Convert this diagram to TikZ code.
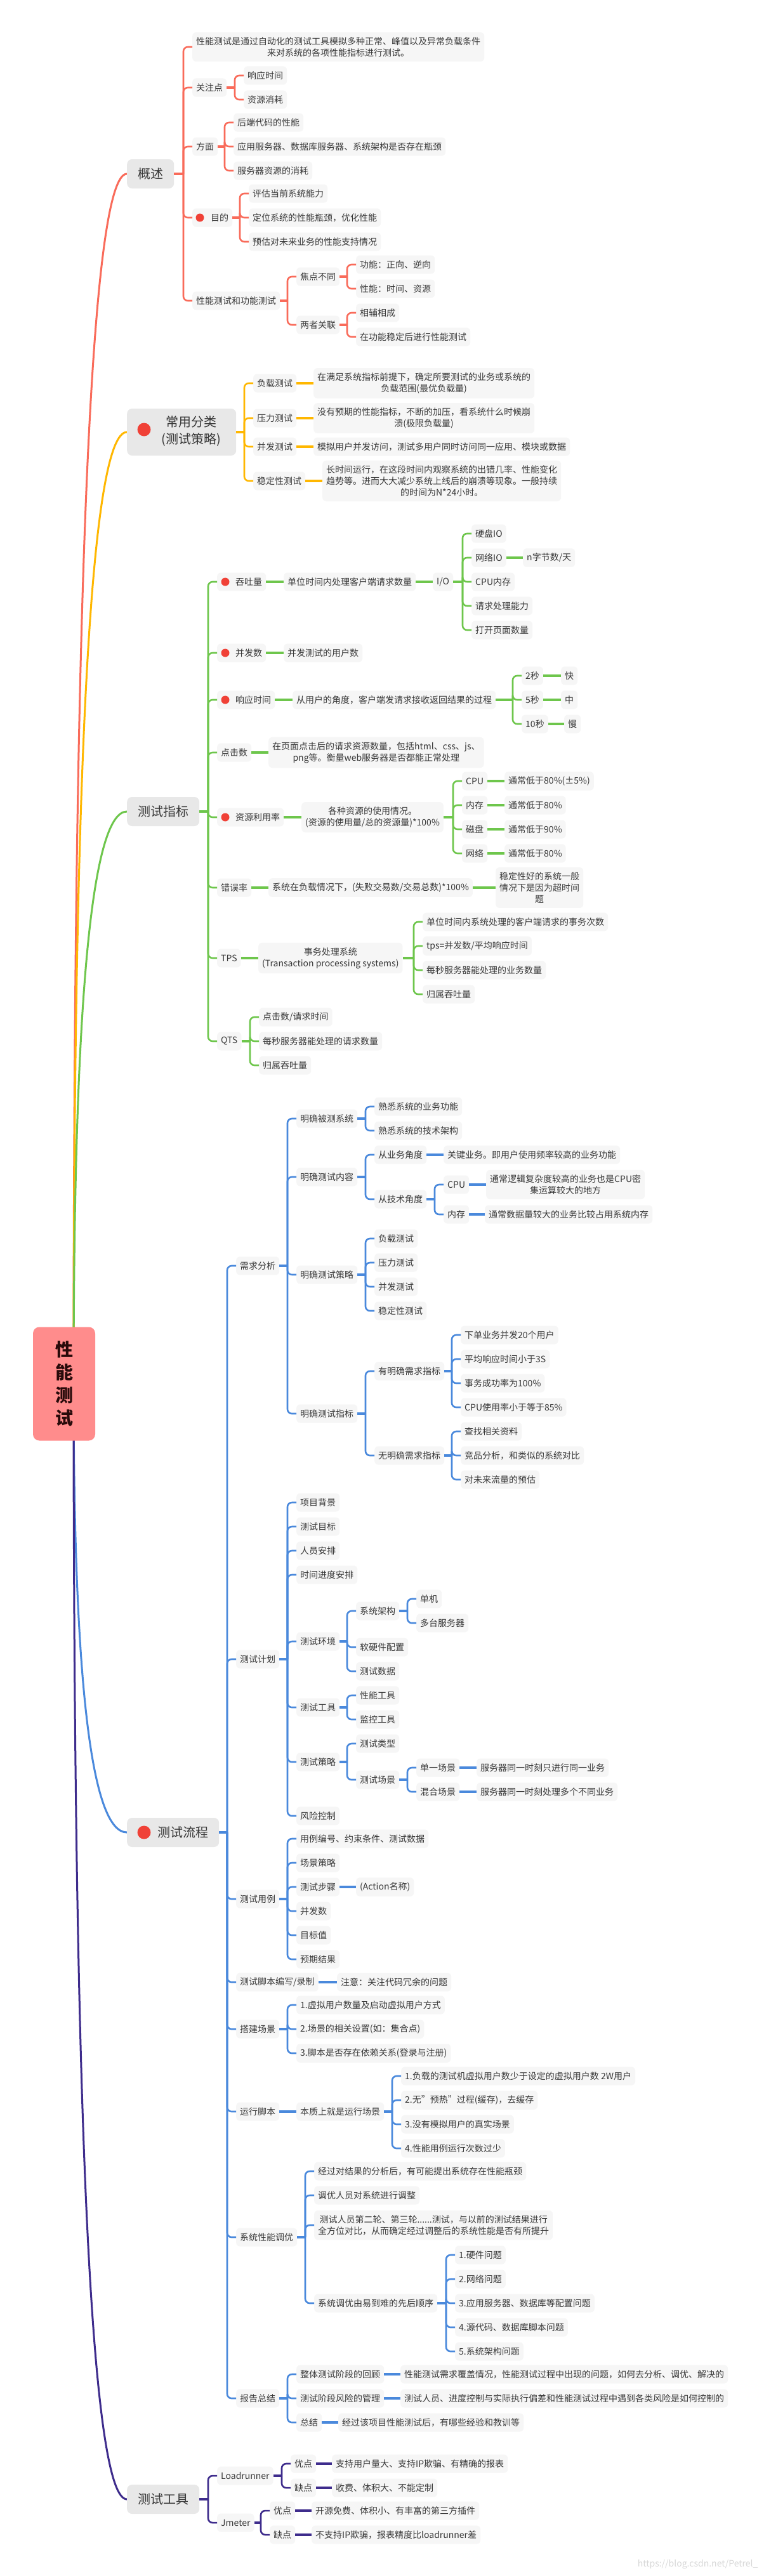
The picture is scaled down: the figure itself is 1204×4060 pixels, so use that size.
\documentclass[tikz,border=0pt]{standalone}
\usepackage{fontspec}
\setmainfont{Noto Sans CJK SC}
\usetikzlibrary{backgrounds}
\definecolor{cA}{RGB}{249,107,90}
\definecolor{cB}{RGB}{255,183,0}
\definecolor{cC}{RGB}{110,198,76}
\definecolor{cD}{RGB}{74,137,220}
\definecolor{cE}{RGB}{62,44,140}
\definecolor{nodebg}{RGB}{246,246,246}
\definecolor{ttlbg}{RGB}{232,232,232}
\definecolor{txt}{RGB}{55,55,55}
\definecolor{rootbg}{RGB}{255,140,140}
\definecolor{roottxt}{RGB}{40,10,10}
\definecolor{dotc}{RGB}{240,65,55}
\definecolor{wmc}{RGB}{215,215,215}
\tikzset{
 box/.style={fill=nodebg, rounded corners=6pt, inner xsep=6pt, inner ysep=7.5pt, minimum height=29pt, font=\fontsize{14}{18}\selectfont, text=txt, anchor=west, align=center},
 dbox/.style={box},
 ttl/.style={fill=ttlbg, rounded corners=8pt, inner xsep=17pt, inner ysep=10pt, minimum height=46pt, font=\fontsize{20}{27}\selectfont, text=txt, anchor=west, align=center},
 rootnode/.style={fill=rootbg, rounded corners=10pt, minimum width=98pt, minimum height=179pt, font=\fontsize{28}{36}\selectfont\bfseries, text=roottxt, align=center},
 stub/.style={line width=4.5pt},
 br/.style={line width=2.6pt, rounded corners=7pt},
 curve/.style={line width=3pt},
 dotfill/.style={fill=dotc},
}
\newcommand\mmfan[2]{%
 \foreach \c [count=\i] in {#2}{%
  \ifnum\i=1\relax
   \path (\c.west) ++(-14,0) coordinate (mmbar);
   \draw[stub] (#1.east) -- (mmbar |- #1.east);
  \fi
  \draw[br] (mmbar |- #1.east) |- (\c.west);
 }%
}
\newcommand\mmlink[2]{\draw[stub] (#1.east) -- (#2.west);}
\begin{document}
\begin{tikzpicture}[x=1pt,y=-1pt]
\useasboundingbox (0,0) rectangle (1204,4060);
% root
\node[rootnode] (root) at (101,2181) {性\\能\\测\\试};
% ===== A =====
\node[ttl] (tA) at (200,274) {概述};
\node[box] (a1) at (303,74) {性能测试是通过自动化的测试工具模拟多种正常、峰值以及异常负载条件\\来对系统的各项性能指标进行测试。};
\node[box] (a2) at (303,138) {关注点};
\node[box] (a21) at (384,119) {响应时间};
\node[box] (a22) at (384,157) {资源消耗};
\node[box] (a3) at (303,231) {方面};
\node[box] (a31) at (368,193) {后端代码的性能};
\node[box] (a32) at (368,231) {应用服务器、数据库服务器、系统架构是否存在瓶颈};
\node[box] (a33) at (368,269) {服务器资源的消耗};
\node[dbox] (a4) at (303,343) {\hspace*{23pt}目的};
\node[box] (a41) at (392,305) {评估当前系统能力};
\node[box] (a42) at (392,343) {定位系统的性能瓶颈，优化性能};
\node[box] (a43) at (392,381) {预估对未来业务的性能支持情况};
\node[box] (a5) at (303,474) {性能测试和功能测试};
\node[box] (a51) at (467,436) {焦点不同};
\node[box] (a511) at (561,417) {功能：正向、逆向};
\node[box] (a512) at (561,455) {性能：时间、资源};
\node[box] (a52) at (467,512) {两者关联};
\node[box] (a521) at (561,493) {相辅相成};
\node[box] (a522) at (561,531) {在功能稳定后进行性能测试};
\begin{scope}[color=cA]
\mmfan{tA}{a1,a2,a3,a4,a5}
\mmfan{a2}{a21,a22}
\mmfan{a3}{a31,a32,a33}
\mmfan{a4}{a41,a42,a43}
\mmfan{a5}{a51,a52}
\mmfan{a51}{a511,a512}
\mmfan{a52}{a521,a522}
\end{scope}
% ===== B =====
\node[ttl, minimum width=172pt, minimum height=72pt] (tB) at (200,681) {\hspace*{31pt}\begin{tabular}{@{}c@{}}常用分类\\(测试策略)\end{tabular}};
\node[box] (b1) at (399,604) {负载测试};
\node[box] (b11) at (494,604) {在满足系统指标前提下，确定所要测试的业务或系统的\\负载范围(最优负载量)};
\node[box] (b2) at (399,659) {压力测试};
\node[box] (b21) at (494,659) {没有预期的性能指标，不断的加压，看系统什么时候崩\\溃(极限负载量)};
\node[box] (b3) at (399,704) {并发测试};
\node[box] (b31) at (494,704) {模拟用户并发访问，测试多用户同时访问同一应用、模块或数据};
\node[box] (b4) at (399,758) {稳定性测试};
\node[box] (b41) at (508,758) {长时间运行，在这段时间内观察系统的出错几率、性能变化\\趋势等。进而大大减少系统上线后的崩溃等现象。一般持续\\的时间为N*24小时。};
\begin{scope}[color=cB]
\mmfan{tB}{b1,b2,b3,b4}
\mmlink{b1}{b11}\mmlink{b2}{b21}\mmlink{b3}{b31}\mmlink{b4}{b41}
\end{scope}
% ===== C =====
\node[ttl] (tC) at (200,1279) {测试指标};
\node[dbox] (c1) at (342,917) {\hspace*{23pt}吞吐量};
\node[box] (c11) at (447,917) {单位时间内处理客户端请求数量};
\node[box] (c12) at (682,917) {I/O};
\node[box] (c121) at (743,841) {硬盘IO};
\node[box] (c122) at (743,879) {网络IO};
\node[box] (c1221) at (824,879) {n字节数/天};
\node[box] (c123) at (743,917) {CPU内存};
\node[box] (c124) at (743,955) {请求处理能力};
\node[box] (c125) at (743,993) {打开页面数量};
\node[dbox] (c2) at (342,1029) {\hspace*{23pt}并发数};
\node[box] (c21) at (447,1029) {并发测试的用户数};
\node[dbox] (c3) at (342,1103) {\hspace*{23pt}响应时间};
\node[box] (c31) at (461,1103) {从用户的角度，客户端发请求接收返回结果的过程};
\node[box] (c311) at (822,1065) {2秒};
\node[box] (c312) at (822,1103) {5秒};
\node[box] (c313) at (822,1141) {10秒};
\node[box] (c3111) at (884,1065) {快};
\node[box] (c3121) at (884,1103) {中};
\node[box] (c3131) at (889,1141) {慢};
\node[box] (c4) at (342,1186) {点击数};
\node[box] (c41) at (423,1186) {在页面点击后的请求资源数量，包括html、css、js、\\png等。衡量web服务器是否都能正常处理};
\node[dbox] (c5) at (342,1288) {\hspace*{23pt}资源利用率};
\node[box] (c51) at (475,1288) {各种资源的使用情况。\\(资源的使用量/总的资源量)*100\%};
\node[box] (c511) at (728,1231) {CPU};
\node[box] (c512) at (728,1269) {内存};
\node[box] (c513) at (728,1307) {磁盘};
\node[box] (c514) at (728,1345) {网络};
\node[box] (c5111) at (795,1231) {通常低于80\%(±5\%)};
\node[box] (c5121) at (795,1269) {通常低于80\%};
\node[box] (c5131) at (795,1307) {通常低于90\%};
\node[box] (c5141) at (795,1345) {通常低于80\%};
\node[box] (c6) at (342,1399) {错误率};
\node[box] (c61) at (423,1399) {系统在负载情况下，(失败交易数/交易总数)*100\%};
\node[box] (c62) at (781,1399) {稳定性好的系统一般\\情况下是因为超时间\\题};
\node[box] (c7) at (342,1510) {TPS};
\node[box] (c71) at (407,1510) {事务处理系统\\(Transaction processing systems)};
\node[box] (c711) at (666,1453) {单位时间内系统处理的客户端请求的事务次数};
\node[box] (c712) at (666,1491) {tps=并发数/平均响应时间};
\node[box] (c713) at (666,1529) {每秒服务器能处理的业务数量};
\node[box] (c714) at (666,1567) {归属吞吐量};
\node[box] (c8) at (342,1641) {QTS};
\node[box] (c81) at (408,1603) {点击数/请求时间};
\node[box] (c82) at (408,1641) {每秒服务器能处理的请求数量};
\node[box] (c83) at (408,1679) {归属吞吐量};
\begin{scope}[color=cC]
\mmfan{tC}{c1,c2,c3,c4,c5,c6,c7,c8}
\mmlink{c1}{c11}\mmlink{c11}{c12}
\mmfan{c12}{c121,c122,c123,c124,c125}
\mmlink{c122}{c1221}
\mmlink{c2}{c21}\mmlink{c3}{c31}
\mmfan{c31}{c311,c312,c313}
\mmlink{c311}{c3111}\mmlink{c312}{c3121}\mmlink{c313}{c3131}
\mmlink{c4}{c41}\mmlink{c5}{c51}
\mmfan{c51}{c511,c512,c513,c514}
\mmlink{c511}{c5111}\mmlink{c512}{c5121}\mmlink{c513}{c5131}\mmlink{c514}{c5141}
\mmlink{c6}{c61}\mmlink{c61}{c62}
\mmlink{c7}{c71}
\mmfan{c71}{c711,c712,c713,c714}
\mmfan{c8}{c81,c82,c83}
\end{scope}
% ===== D =====
\node[ttl] (tD) at (200,2888) {\hspace*{31pt}测试流程};
\node[box] (d1) at (372,1995) {需求分析};
\node[box] (d11) at (467,1763) {明确被测系统};
\node[box] (d111) at (590,1744) {熟悉系统的业务功能};
\node[box] (d112) at (590,1782) {熟悉系统的技术架构};
\node[box] (d12) at (467,1855) {明确测试内容};
\node[box] (d121) at (590,1820) {从业务角度};
\node[box] (d1211) at (699,1820) {关键业务。即用户使用频率较高的业务功能};
\node[box] (d122) at (590,1890) {从技术角度};
\node[box] (d1221) at (699,1867) {CPU};
\node[box] (d12211) at (766,1867) {通常逻辑复杂度较高的业务也是CPU密\\集运算较大的地方};
\node[box] (d1222) at (699,1914) {内存};
\node[box] (d12221) at (764,1914) {通常数据量较大的业务比较占用系统内存};
\node[box] (d13) at (467,2009) {明确测试策略};
\node[box] (d131) at (590,1952) {负载测试};
\node[box] (d132) at (590,1990) {压力测试};
\node[box] (d133) at (590,2028) {并发测试};
\node[box] (d134) at (590,2066) {稳定性测试};
\node[box] (d14) at (467,2228) {明确测试指标};
\node[box] (d141) at (590,2161) {有明确需求指标};
\node[box] (d1411) at (726,2104) {下单业务并发20个用户};
\node[box] (d1412) at (726,2142) {平均响应时间小于3S};
\node[box] (d1413) at (726,2180) {事务成功率为100\%};
\node[box] (d1414) at (726,2218) {CPU使用率小于等于85\%};
\node[box] (d142) at (590,2294) {无明确需求指标};
\node[box] (d1421) at (726,2256) {查找相关资料};
\node[box] (d1422) at (726,2294) {竞品分析，和类似的系统对比};
\node[box] (d1423) at (726,2332) {对未来流量的预估};
\node[box] (d2) at (372,2615) {测试计划};
\node[box] (d21) at (467,2368) {项目背景};
\node[box] (d22) at (467,2406) {测试目标};
\node[box] (d23) at (467,2444) {人员安排};
\node[box] (d24) at (467,2482) {时间进度安排};
\node[box] (d25) at (467,2587) {测试环境};
\node[box] (d251) at (561,2539) {系统架构};
\node[box] (d2511) at (656,2520) {单机};
\node[box] (d2512) at (656,2558) {多台服务器};
\node[box] (d252) at (561,2596) {软硬件配置};
\node[box] (d253) at (561,2634) {测试数据};
\node[box] (d26) at (467,2691) {测试工具};
\node[box] (d261) at (561,2672) {性能工具};
\node[box] (d262) at (561,2710) {监控工具};
\node[box] (d27) at (467,2777) {测试策略};
\node[box] (d271) at (561,2748) {测试类型};
\node[box] (d272) at (561,2805) {测试场景};
\node[box] (d2721) at (656,2786) {单一场景};
\node[box] (d27211) at (751,2786) {服务器同一时刻只进行同一业务};
\node[box] (d2722) at (656,2824) {混合场景};
\node[box] (d27221) at (751,2824) {服务器同一时刻处理多个不同业务};
\node[box] (d28) at (467,2862) {风险控制};
\node[box] (d3) at (372,2993) {测试用例};
\node[box] (d31) at (467,2898) {用例编号、约束条件、测试数据};
\node[box] (d32) at (467,2936) {场景策略};
\node[box] (d33) at (467,2974) {测试步骤};
\node[box] (d331) at (561,2974) {(Action名称)};
\node[box] (d34) at (467,3012) {并发数};
\node[box] (d35) at (467,3050) {目标值};
\node[box] (d36) at (467,3088) {预期结果};
\node[box] (d4) at (372,3124) {测试脚本编写/录制};
\node[box] (d41) at (531,3124) {注意：关注代码冗余的问题};
\node[box] (d5) at (372,3198) {搭建场景};
\node[box] (d51) at (467,3160) {1.虚拟用户数量及启动虚拟用户方式};
\node[box] (d52) at (467,3198) {2.场景的相关设置(如：集合点)};
\node[box] (d53) at (467,3236) {3.脚本是否存在依赖关系(登录与注册)};
\node[box] (d6) at (372,3328) {运行脚本};
\node[box] (d61) at (467,3328) {本质上就是运行场景};
\node[box] (d611) at (632,3272) {1.负载的测试机虚拟用户数少于设定的虚拟用户数 2W用户};
\node[box] (d612) at (632,3310) {2.无"预热"过程(缓存)，去缓存};
\node[box] (d613) at (632,3348) {3.没有模拟用户的真实场景};
\node[box] (d614) at (632,3386) {4.性能用例运行次数过少};
\node[box] (d7) at (372,3526) {系统性能调优};
\node[box] (d71) at (495,3422) {经过对结果的分析后，有可能提出系统存在性能瓶颈};
\node[box] (d72) at (495,3460) {调优人员对系统进行调整};
\node[box] (d73) at (495,3507) {测试人员第二轮、第三轮......测试，与以前的测试结果进行\\全方位对比，从而确定经过调整后的系统性能是否有所提升};
\node[box] (d74) at (495,3630) {系统调优由易到难的先后顺序};
\node[box] (d741) at (717,3554) {1.硬件问题};
\node[box] (d742) at (717,3592) {2.网络问题};
\node[box] (d743) at (717,3630) {3.应用服务器、数据库等配置问题};
\node[box] (d744) at (717,3668) {4.源代码、数据库脚本问题};
\node[box] (d745) at (717,3706) {5.系统架构问题};
\node[box] (d8) at (372,3780) {报告总结};
\node[box] (d81) at (467,3742) {整体测试阶段的回顾};
\node[box] (d811) at (631,3742) {性能测试需求覆盖情况，性能测试过程中出现的问题，如何去分析、调优、解决的};
\node[box] (d82) at (467,3780) {测试阶段风险的管理};
\node[box] (d821) at (631,3780) {测试人员、进度控制与实际执行偏差和性能测试过程中遇到各类风险是如何控制的};
\node[box] (d83) at (467,3818) {总结};
\node[box] (d831) at (533,3818) {经过该项目性能测试后，有哪些经验和教训等};
\begin{scope}[color=cD]
\mmfan{tD}{d1,d2,d3,d4,d5,d6,d7,d8}
\mmfan{d1}{d11,d12,d13,d14}
\mmfan{d11}{d111,d112}
\mmfan{d12}{d121,d122}
\mmlink{d121}{d1211}
\mmfan{d122}{d1221,d1222}
\mmlink{d1221}{d12211}\mmlink{d1222}{d12221}
\mmfan{d13}{d131,d132,d133,d134}
\mmfan{d14}{d141,d142}
\mmfan{d141}{d1411,d1412,d1413,d1414}
\mmfan{d142}{d1421,d1422,d1423}
\mmfan{d2}{d21,d22,d23,d24,d25,d26,d27,d28}
\mmfan{d25}{d251,d252,d253}
\mmfan{d251}{d2511,d2512}
\mmfan{d26}{d261,d262}
\mmfan{d27}{d271,d272}
\mmfan{d272}{d2721,d2722}
\mmlink{d2721}{d27211}\mmlink{d2722}{d27221}
\mmfan{d3}{d31,d32,d33,d34,d35,d36}
\mmlink{d33}{d331}
\mmlink{d4}{d41}
\mmfan{d5}{d51,d52,d53}
\mmlink{d6}{d61}
\mmfan{d61}{d611,d612,d613,d614}
\mmfan{d7}{d71,d72,d73,d74}
\mmfan{d74}{d741,d742,d743,d744,d745}
\mmfan{d8}{d81,d82,d83}
\mmlink{d81}{d811}\mmlink{d82}{d821}\mmlink{d83}{d831}
\end{scope}
% ===== E =====
\node[ttl] (tE) at (200,3939) {测试工具};
\node[box] (e1) at (342,3902) {Loadrunner};
\node[box] (e11) at (458,3883) {优点};
\node[box] (e111) at (523,3883) {支持用户量大、支持IP欺骗、有精确的报表};
\node[box] (e12) at (458,3921) {缺点};
\node[box] (e121) at (523,3921) {收费、体积大、不能定制};
\node[box] (e2) at (342,3976) {Jmeter};
\node[box] (e21) at (425,3957) {优点};
\node[box] (e211) at (491,3957) {开源免费、体积小、有丰富的第三方插件};
\node[box] (e22) at (425,3995) {缺点};
\node[box] (e221) at (491,3995) {不支持IP欺骗，报表精度比loadrunner差};
\begin{scope}[color=cE]
\mmfan{tE}{e1,e2}
\mmfan{e1}{e11,e12}
\mmfan{e2}{e21,e22}
\mmlink{e11}{e111}\mmlink{e12}{e121}\mmlink{e21}{e211}\mmlink{e22}{e221}
\end{scope}
% dots
\fill[dotfill] ([xshift=12pt]a4.west) circle (6.5);
\fill[dotfill] ([xshift=13pt]c1.west) circle (6.5);
\fill[dotfill] ([xshift=13pt]c2.west) circle (6.5);
\fill[dotfill] ([xshift=13pt]c3.west) circle (6.5);
\fill[dotfill] ([xshift=13pt]c5.west) circle (6.5);
\fill[dotfill] ([xshift=27pt,yshift=4pt]tB.west) circle (10.5);
\fill[dotfill] ([xshift=27pt]tD.west) circle (10.5);
% watermark
\node[font=\fontsize{14}{16}\selectfont, text=wmc, anchor=east] (wm) at (1198,4042) {https://blog.csdn.net/Petrel\_};
% background and main curves
\begin{scope}[on background layer]
\fill[white] (0,0) rectangle (1204,4060);
\draw[curve, cA] ([xshift=15pt]root.center) .. controls (116,910) and (144,274) .. (tA.west);
\draw[curve, cB] ([xshift=15pt]root.center) .. controls (116,1181) and (144,681) .. (tB.west);
\draw[curve, cC] ([xshift=15pt]root.center) .. controls (116,1580) and (144,1279) .. (tC.west);
\draw[curve, cD] ([xshift=15pt]root.center) .. controls (116,2652) and (144,2888) .. (tD.west);
\draw[curve, cE] ([xshift=15pt]root.center) .. controls (116,3353) and (144,3939) .. (tE.west);
\end{scope}
\end{tikzpicture}
\end{document}
